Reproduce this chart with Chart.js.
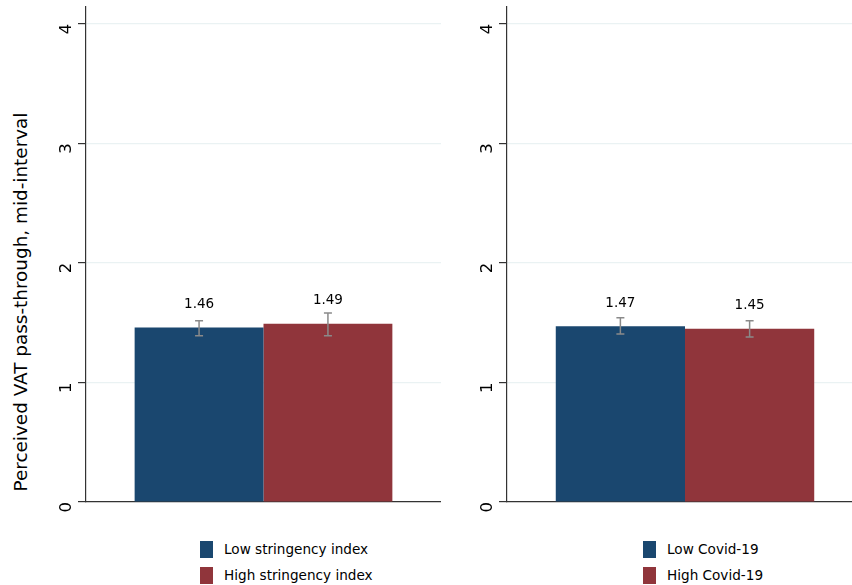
<!DOCTYPE html>
<html>
<head>
<meta charset="utf-8">
<script src="https://cdn.jsdelivr.net/npm/chart.js@4.4.0/dist/chart.umd.min.js"></script>
<style>
  body { margin: 0; width: 852px; height: 585px; overflow: hidden; background: #fff; position: relative; font-family: "DejaVu Sans", sans-serif; }
  .panel { position: absolute; top: 0; }
  #ytitle { position: absolute; left: 20px; top: 302px; transform: translate(-50%, -50%) rotate(-90deg); white-space: nowrap; font-size: 18.4px; color: #000; }
  .legend { position: absolute; font-size: 13.6px; color: #000; }
  .legend div { height: 26px; display: flex; align-items: center; }
  .legend span.sw { display: inline-block; width: 13px; height: 17px; margin-right: 11px; }
</style>
</head>
<body>
<div id="ytitle">Perceived VAT pass-through, mid-interval</div>
<div class="panel" style="left:0px;width:441px;height:520px"><canvas id="left"></canvas></div>
<div class="panel" style="left:421px;width:442px;height:520px"><canvas id="right"></canvas></div>
<div class="legend" id="legLeft" style="left:200px;top:536px"></div>
<div class="legend" id="legRight" style="left:643px;top:536px"></div>
<script>
// data
const leftLabels = ['Low stringency index', 'High stringency index'];
const leftMeans = [1.46, 1.49];
const leftLow = [1.39, 1.39];
const leftHigh = [1.515, 1.58];

const rightLabels = ['Low Covid-19', 'High Covid-19'];
const rightMeans = [1.47, 1.45];
const rightLow = [1.405, 1.38];
const rightHigh = [1.54, 1.515];

const yTicks = [0, 1, 2, 3, 4];
const barColors = ['#1a476f', '#90353b'];

// error bars + value labels drawn from the scales
const errorBars = {
    id: 'errorBars',
    afterDatasetsDraw(chart, args, opts) {
        const ctx = chart.ctx;
        const y = chart.scales.y;
        chart.data.datasets.forEach((ds, i) => {
            const bar = chart.getDatasetMeta(i).data[0];
            const x = bar.x;
            const top = y.getPixelForValue(opts.high[i]);
            const bot = y.getPixelForValue(opts.low[i]);
            ctx.save();
            ctx.strokeStyle = '#8a8a8a';
            ctx.lineWidth = 1.5;
            ctx.beginPath();
            ctx.moveTo(x, top); ctx.lineTo(x, bot);
            ctx.moveTo(x - 4, top); ctx.lineTo(x + 4, top);
            ctx.moveTo(x - 4, bot); ctx.lineTo(x + 4, bot);
            ctx.stroke();
            ctx.fillStyle = '#000';
            ctx.font = '13.5px "DejaVu Sans"';
            ctx.textAlign = 'center';
            ctx.textBaseline = 'middle';
            ctx.fillText(ds.data[0].toFixed(2), x, y.getPixelForValue(ds.data[0]) - 23);
            ctx.restore();
        });
    }
};

function makePanel(id, labels, means, low, high) {
    const ctx = document.getElementById(id).getContext('2d');
    return new Chart(ctx, {
        type: 'bar',
        data: {
            labels: [''],
            datasets: labels.map((lab, i) => ({
                label: lab,
                data: [means[i]],
                backgroundColor: barColors[i],
                borderWidth: 0
            }))
        },
        options: {
            responsive: true,
            maintainAspectRatio: false,
            animation: false,
            layout: { padding: { top: 7, bottom: 18, right: 0 } },
            datasets: { bar: { categoryPercentage: 0.726, barPercentage: 1.0 } },
            plugins: {
                legend: { display: false },
                tooltip: { enabled: false },
                errorBars: { low: low, high: high }
            },
            scales: {
                x: {
                    ticks: { display: false },
                    grid: { display: false, drawTicks: false },
                    border: { display: true, color: '#333', width: 1.2 },
                    afterFit(scale) { scale.height = 0; scale.paddingLeft = 0; scale.paddingRight = 0; }
                },
                y: {
                    min: 0,
                    max: 4.14,
                    afterBuildTicks(scale) { scale.ticks = yTicks.map(v => ({ value: v })); },
                    afterFit(scale) {
                        scale.width = 86;
                        scale.paddingTop = 0;
                        scale.paddingBottom = 0;
                    },
                    ticks: {
                        minRotation: 90,
                        maxRotation: 90,
                        padding: 11,
                        color: '#000',
                        font: { family: 'DejaVu Sans', size: 16.5 }
                    },
                    grid: {
                        color: (c) => c.tick && c.tick.value === 0 ? 'rgba(0,0,0,0)' : '#eaf2f3',
                        tickColor: '#333',
                        tickLength: 8,
                        lineWidth: 1.2
                    },
                    border: { display: true, color: '#333', width: 1.2 }
                }
            }
        },
        plugins: [errorBars]
    });
}

makePanel('left', leftLabels, leftMeans, leftLow, leftHigh);
makePanel('right', rightLabels, rightMeans, rightLow, rightHigh);

// legends under each panel
function makeLegend(id, labels) {
    const el = document.getElementById(id);
    labels.forEach((lab, i) => {
        const row = document.createElement('div');
        const sw = document.createElement('span');
        sw.className = 'sw';
        sw.style.background = barColors[i];
        row.appendChild(sw);
        row.appendChild(document.createTextNode(lab));
        el.appendChild(row);
    });
}
makeLegend('legLeft', leftLabels);
makeLegend('legRight', rightLabels);
</script>
</body>
</html>
